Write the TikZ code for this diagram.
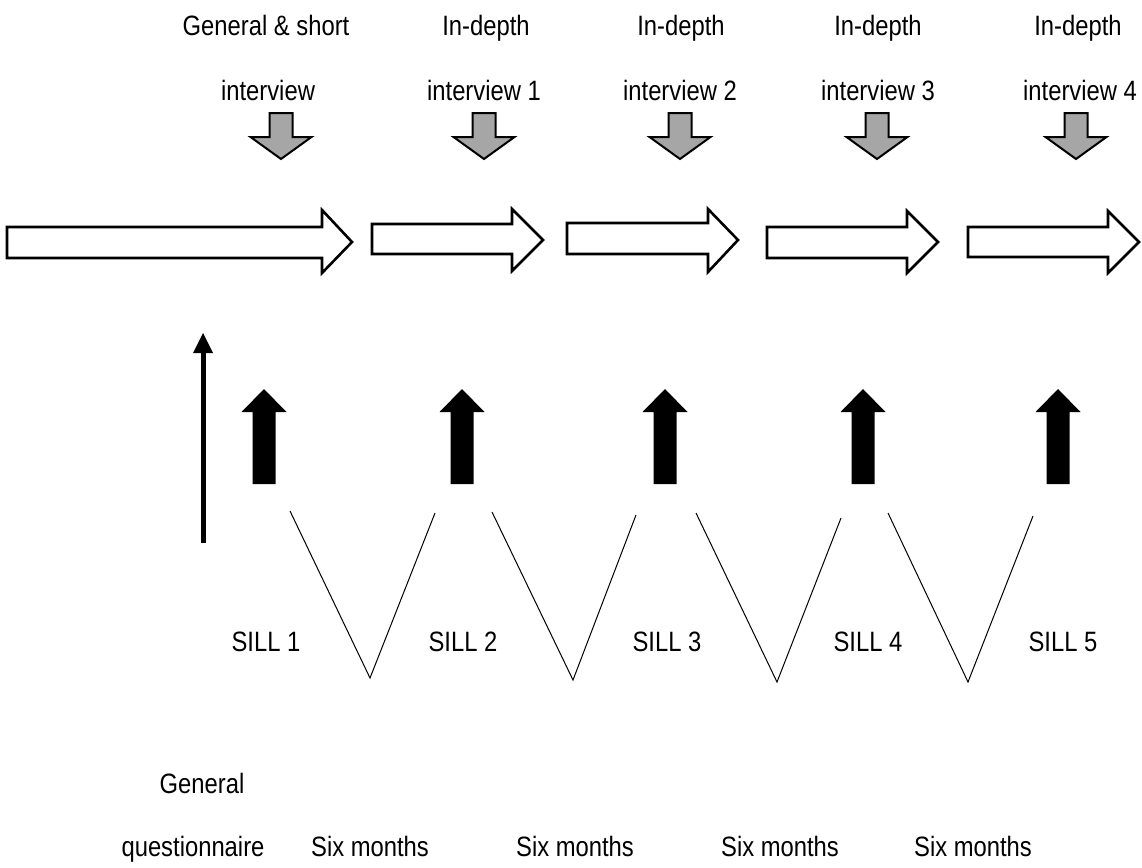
\documentclass[tikz,border=0pt]{standalone}
\usepackage{fontspec}
\setmainfont{Liberation Sans}[FakeStretch=0.85]
\begin{document}
\begin{tikzpicture}[x=1pt,y=-1pt,
  lbl/.style={font=\fontsize{28}{30}\selectfont, inner sep=0pt, anchor=base},
  blockarrow/.style={draw=black, line width=2.6pt, fill=white, line join=miter},
  grayarrow/.style={draw=black, line width=2pt, fill={rgb,255:red,166;green,166;blue,166}, line join=miter},
  blackarrow/.style={fill=black},
  vline/.style={draw=black, line width=1pt}]
\useasboundingbox (0,0) rectangle (1142,867);

% white block arrows: L, H, T, bodytop, bodybottom, headtop, headbottom, mid
\foreach \L/\H/\T/\bt/\bb/\ht/\hb/\m in {
  7/322/352/227/258/210/273/242,
  372/512/543/224/254/209/271/240,
  567/708/738/223/254/209/272/240,
  767/907/938/227/258/211/273/242,
  968/1108/1139/227/257/211/273/242}{
  \path[blockarrow] (\L,\bt) -- (\H,\bt) -- (\H,\ht) -- (\T,\m) -- (\H,\hb) -- (\H,\bb) -- (\L,\bb) -- cycle;
}

% gray down arrows
\foreach \c in {281,484,680,877,1076}{
  \path[grayarrow] (\c-11.5,113) -- (\c+11.5,113) -- (\c+11.5,137) -- (\c+30.5,137) -- (\c,159) -- (\c-30.5,137) -- (\c-11.5,137) -- cycle;
}

% black up arrows
\foreach \c in {264,462,665,863,1058}{
  \path[blackarrow] (\c-11.5,484) -- (\c-11.5,412) -- (\c-22.5,412) -- (\c,389) -- (\c+22.5,412) -- (\c+11.5,412) -- (\c+11.5,484) -- cycle;
}

% thin long arrow
\coordinate (ta) at (203,543);
\coordinate (tb) at (203,350);
\coordinate (tt) at (203,333);
\coordinate (tl) at (193,353);
\coordinate (tr) at (213,353);
\draw[line width=5pt] (ta) -- (tb);
\fill (tt) -- (tr) -- (tl) -- cycle;

% V lines
\coordinate (v1a) at (290,511); \coordinate (v1b) at (370,678); \coordinate (v1c) at (435,513);
\coordinate (v2a) at (492,512); \coordinate (v2b) at (573,680); \coordinate (v2c) at (636,515);
\coordinate (v3a) at (696,513); \coordinate (v3b) at (777,682); \coordinate (v3c) at (841,518);
\coordinate (v4a) at (888,513); \coordinate (v4b) at (968,682); \coordinate (v4c) at (1033,516);
\foreach \i in {1,2,3,4}{
  \draw[vline] (v\i a) -- (v\i b) -- (v\i c);
}

% top labels
\node[lbl] (t1a) at (266,36) {General \& short};
\node[lbl] (t1b) at (268,100) {interview};
\node[lbl] (t2a) at (486,36) {In-depth};
\node[lbl] (t2b) at (484,100) {interview 1};
\node[lbl] (t3a) at (681,36) {In-depth};
\node[lbl] (t3b) at (680,100) {interview 2};
\node[lbl] (t4a) at (878,36) {In-depth};
\node[lbl] (t4b) at (878,100) {interview 3};
\node[lbl] (t5a) at (1078,36) {In-depth};
\node[lbl] (t5b) at (1080,100) {interview 4};

% SILL labels
\node[lbl] (s1) at (266,651) {SILL 1};
\node[lbl] (s2) at (463,651) {SILL 2};
\node[lbl] (s3) at (667,651) {SILL 3};
\node[lbl] (s4) at (868,651) {SILL 4};
\node[lbl] (s5) at (1063,651) {SILL 5};

% bottom labels
\node[lbl] (g1) at (202,793) {General};
\node[lbl] (g2) at (193,856) {questionnaire};
\node[lbl] (m1) at (370,856) {Six months};
\node[lbl] (m2) at (575,856) {Six months};
\node[lbl] (m3) at (780,856) {Six months};
\node[lbl] (m4) at (973,856) {Six months};
\end{tikzpicture}
\end{document}
